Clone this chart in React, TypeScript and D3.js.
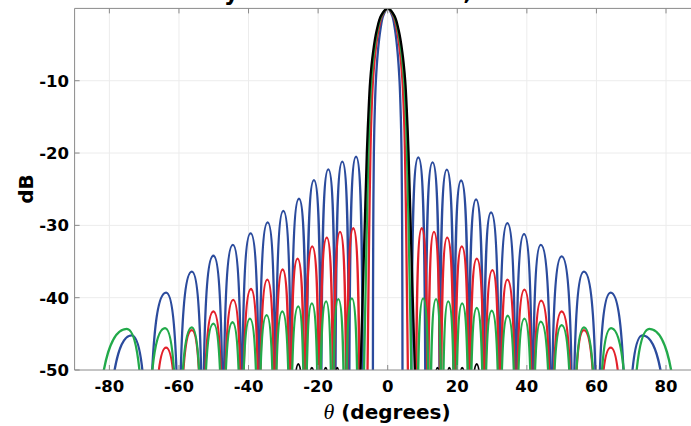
import React from "react";
import * as d3 from "d3";

const X_TICKS = [-80, -60, -40, -20, 0, 20, 40, 60, 80];
const Y_TICKS = [-50, -40, -30, -20, -10];

// Main-lobe half-widths (deg) at these levels (dB)
const mainLevels = [0, -1, -3, -6, -10, -15, -20, -30, -40, -50, -56];
const blueMain = [0, 1.28, 2.12, 2.83, 3.4, 3.77, 3.98, 4.15, 4.22, 4.25, 4.3];
const redMain = [0, 1.6, 2.65, 3.54, 4.24, 4.7, 4.97, 5.3, 5.55, 5.8, 5.9];
const greenMain = [0, 1.77, 2.95, 3.93, 4.72, 5.23, 5.55, 6.0, 6.4, 6.8, 6.95];
const blackMain = [0, 1.9, 3.15, 4.2, 5.04, 5.58, 6.0, 6.6, 7.2, 7.8, 8.0];

// Sidelobe peaks, inner to outer
const blueLeftTheta = [-9.1, -13.05, -17.07, -21.2, -25.5, -30.0, -34.5, -39.4, -44.5, -50.1, -56.3, -63.7, -73.6];
const blueLeftDb = [-20.5, -21.2, -22.25, -23.75, -26.3, -28.0, -29.6, -31.1, -32.7, -34.2, -36.4, -39.3, -45.2];
const blueRightTheta = [8.8, 12.9, 17.0, 21.1, 25.4, 29.7, 34.4, 39.2, 44.0, 50.0, 56.4, 64.1, 73.2];
const blueRightDb = [-20.6, -21.3, -22.3, -23.8, -26.4, -28.2, -29.7, -31.2, -32.7, -34.3, -36.4, -39.3, -45.2];
const blueOuterNull = [-81.5, 81.6];

const redLeftTheta = [-9.9, -13.7, -17.5, -21.7, -25.9, -30.2, -34.6, -39.3, -44.4, -50.1, -56.3, -63.7];
const redLeftDb = [-30.4, -30.9, -31.7, -32.9, -34.6, -36.1, -37.5, -38.8, -40.3, -41.9, -44.5, -46.9];
const redRightTheta = [9.8, 13.3, 17.1, 21.3, 25.6, 30.1, 34.4, 39.3, 44.1, 50.0, 56.4, 64.1];
const redRightDb = [-30.4, -30.9, -31.7, -32.9, -34.6, -36.2, -37.5, -38.9, -40.4, -41.9, -44.5, -46.9];
const redOuterNull = [-67.6, 67.9];

const greenLeftTheta = [-10.3, -14.2, -17.7, -21.8, -25.7, -30.3, -34.8, -39.6, -44.6, -50.1, -56.3, -64.0, -75.0];
const greenLeftDb = [-40.1, -40.2, -40.5, -40.8, -41.2, -41.9, -42.4, -42.9, -43.4, -43.6, -44.1, -44.2, -44.3];
const greenRightTheta = [10.2, 13.9, 17.4, 21.4, 25.6, 29.9, 34.5, 39.3, 44.0, 50.0, 56.4, 64.2, 75.2];
const greenRightDb = [-40.1, -40.2, -40.5, -40.8, -41.4, -41.8, -42.5, -42.9, -43.3, -43.8, -44.1, -44.2, -44.3];
const greenOuterNull = [-85.0, 84.7];

const blackLeftTheta = [-14.5, -17.8, -21.8, -25.7];
const blackLeftDb = [-49.7, -49.7, -49.7, -49.2];
const blackRightTheta = [14.3, 17.7, 21.4, 25.6];
const blackRightDb = [-49.7, -49.7, -49.7, -49.2];
const blackOuterNull = [-27.6, 27.5];

const W = 691;
const H = 426;
const x = d3.scaleLinear().domain([-90, 90]).range([74.6, 700.8]);
const y = d3.scaleLinear().domain([-50, 0]).range([370, 8.4]);

const FONT = "'DejaVu Sans', sans-serif";

function sidePath(p: d3.Path, th: number[], db: number[], outer: number) {
  const n = th.length;
  for (let i = 0; i < n; i++) {
    const pk = th[i];
    const lv = db[i];
    const nIn = i === 0 ? pk - (th[1] - pk) / 2 : (th[i - 1] + pk) / 2;
    const nOut = i === n - 1 ? outer : (pk + th[i + 1]) / 2;
    p.moveTo(x(nIn), y(lv - 45));
    p.bezierCurveTo(x(nIn), y(lv - 18), x(nIn + 0.1 * (pk - nIn)), y(lv), x(pk), y(lv));
    p.bezierCurveTo(x(nOut - 0.1 * (nOut - pk)), y(lv), x(nOut), y(lv - 18), x(nOut), y(lv - 45));
  }
}

function lobes(lt: number[], ld: number[], rt: number[], rd: number[], outer: number[]) {
  const p = d3.path();
  sidePath(p, lt, ld, outer[0]);
  sidePath(p, rt, rd, outer[1]);
  return p.toString();
}

const mainLine = d3
  .line<[number, number]>()
  .x((d) => x(d[0]))
  .y((d) => y(d[1]))
  .curve(d3.curveCatmullRom.alpha(0.5));

function mainPath(widths: number[]) {
  const pts: [number, number][] = [];
  for (let i = widths.length - 1; i >= 0; i--) pts.push([-widths[i], mainLevels[i]]);
  for (let i = 1; i < widths.length; i++) pts.push([widths[i], mainLevels[i]]);
  return mainLine(pts) as string;
}

const series = [
  { color: "#2b4b9d", main: blueMain, lt: blueLeftTheta, ld: blueLeftDb, rt: blueRightTheta, rd: blueRightDb, outer: blueOuterNull },
  { color: "#e3202a", main: redMain, lt: redLeftTheta, ld: redLeftDb, rt: redRightTheta, rd: redRightDb, outer: redOuterNull },
  { color: "#22aa4a", main: greenMain, lt: greenLeftTheta, ld: greenLeftDb, rt: greenRightTheta, rd: greenRightDb, outer: greenOuterNull },
  { color: "#000000", main: blackMain, lt: blackLeftTheta, ld: blackLeftDb, rt: blackRightTheta, rd: blackRightDb, outer: blackOuterNull },
];

export default function App() {
  const [x0, x1] = x.range();
  const [yb, yt] = y.range();
  return (
    <svg width={W} height={H} style={{ position: "absolute", left: 0, top: 0, background: "#fff" }}>
      <defs>
        <clipPath id="plot">
          <rect x={x0} y={yt} width={x1 - x0} height={yb - yt} />
        </clipPath>
      </defs>
      <rect x={0} y={0} width={W} height={H} fill="#fff" />
      {/* grid */}
      {X_TICKS.map((t) => (
        <line key={"gx" + t} x1={x(t)} x2={x(t)} y1={yt} y2={yb} stroke="#ececec" strokeWidth={1} />
      ))}
      {Y_TICKS.filter((t) => t > -50).map((t) => (
        <line key={"gy" + t} x1={x0} x2={x1} y1={y(t)} y2={y(t)} stroke="#ececec" strokeWidth={1} />
      ))}
      {/* title (cropped at the top edge, as in the reference) */}
      <text x={170} y={0} fontFamily={FONT} fontWeight="bold" fontSize={22.5} fill="#000">
        Array Factor for N = 40,
      </text>
      {/* curves */}
      <g clipPath="url(#plot)" fill="none" strokeWidth={2.3} strokeLinejoin="round">
        {series.map((s, i) => (
          <g key={i} stroke={s.color}>
            <path d={lobes(s.lt, s.ld, s.rt, s.rd, s.outer)} />
            <path d={mainPath(s.main)} />
          </g>
        ))}
      </g>
      {/* axes box */}
      <line x1={x0} x2={x0} y1={yt} y2={yb} stroke="#8a8a8a" strokeWidth={1} />
      <line x1={x0} x2={x1} y1={yb} y2={yb} stroke="#8a8a8a" strokeWidth={1} />
      <line x1={x0} x2={x1} y1={yt} y2={yt} stroke="#8a8a8a" strokeWidth={1} />
      {X_TICKS.map((t) => (
        <g key={"tx" + t}>
          <line x1={x(t)} x2={x(t)} y1={yb} y2={yb - 5} stroke="#8a8a8a" />
          <line x1={x(t)} x2={x(t)} y1={yt} y2={yt + 5} stroke="#8a8a8a" />
          <text x={x(t)} y={392} textAnchor="middle" fontFamily={FONT} fontWeight="bold" fontSize={16.5} fill="#000">
            {t}
          </text>
        </g>
      ))}
      {Y_TICKS.map((t) => (
        <g key={"ty" + t}>
          <line x1={x0} x2={x0 + 5} y1={y(t)} y2={y(t)} stroke="#8a8a8a" />
          <text x={69} y={y(t)} dy="0.36em" textAnchor="end" fontFamily={FONT} fontWeight="bold" fontSize={16.5} fill="#000">
            {t}
          </text>
        </g>
      ))}
      <text x={387} y={419} textAnchor="middle" fontFamily={FONT} fontWeight="bold" fontSize={20} fill="#000">
        <tspan fontFamily="'Liberation Serif', serif" fontStyle="italic" fontWeight="normal" fontSize={22}>θ</tspan>
        {" (degrees)"}
      </text>
      <text transform="translate(26,189) rotate(-90)" textAnchor="middle" dy="0.36em" fontFamily={FONT} fontWeight="bold" fontSize={20} fill="#000">
        dB
      </text>
    </svg>
  );
}
